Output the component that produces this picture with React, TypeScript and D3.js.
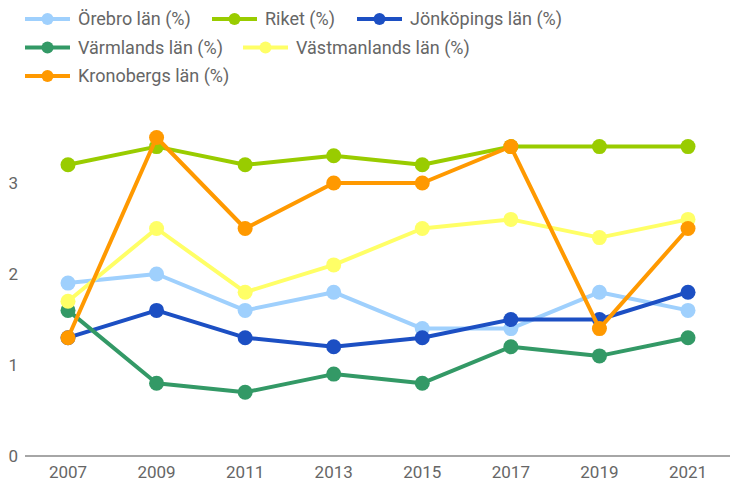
import { useRef, useEffect } from "react";
import * as d3 from "d3";

const years = ["2007", "2009", "2011", "2013", "2015", "2017", "2019", "2021"];
const yTicks = [0, 1, 2, 3];

const orebro = [1.9, 2.0, 1.6, 1.8, 1.4, 1.4, 1.8, 1.6];
const riket = [3.2, 3.4, 3.2, 3.3, 3.2, 3.4, 3.4, 3.4];
const jonkoping = [1.3, 1.6, 1.3, 1.2, 1.3, 1.5, 1.5, 1.8];
const varmland = [1.6, 0.8, 0.7, 0.9, 0.8, 1.2, 1.1, 1.3];
const vastmanland = [1.7, 2.5, 1.8, 2.1, 2.5, 2.6, 2.4, 2.6];
const kronoberg = [1.3, 3.5, 2.5, 3.0, 3.0, 3.4, 1.4, 2.5];

const seriesNames = [
  "Örebro län (%)",
  "Riket (%)",
  "Jönköpings län (%)",
  "Värmlands län (%)",
  "Västmanlands län (%)",
  "Kronobergs län (%)",
];
const seriesValues = [orebro, riket, jonkoping, varmland, vastmanland, kronoberg];
const colors = ["#9fd0fd", "#99cc00", "#1c4fc3", "#339966", "#ffff66", "#ff9900"];

// legend slots: [x of symbol start, row]
const legendPos: [number, number][] = [
  [25, 0],
  [212, 0],
  [357, 0],
  [25, 1],
  [243, 1],
  [25, 2],
];

export default function App() {
  const svgRef = useRef<SVGSVGElement | null>(null);

  useEffect(() => {
    const svg = d3.select(svgRef.current);
    svg.selectAll("*").remove();

    const width = 730;
    const height = 481;
    const font = "Roboto, 'Noto Sans', sans-serif";

    const x = d3.scalePoint<string>().domain(years).range([68, 688]);
    const y = d3.scaleLinear().domain([0, 3]).range([456, 183]);

    // baseline
    svg
      .append("line")
      .attr("x1", 25)
      .attr("x2", width)
      .attr("y1", y(0))
      .attr("y2", y(0))
      .attr("stroke", "#a6a6a6")
      .attr("stroke-width", 2);

    // y tick labels
    svg
      .append("g")
      .selectAll("text")
      .data(yTicks)
      .join("text")
      .attr("x", 18)
      .attr("y", (d) => y(d))
      .attr("dy", "0.35em")
      .attr("text-anchor", "end")
      .attr("font-family", font)
      .attr("font-size", 17)
      .attr("fill", "#666")
      .text((d) => d);

    // x tick labels
    svg
      .append("g")
      .selectAll("text")
      .data(years)
      .join("text")
      .attr("x", (d) => x(d)!)
      .attr("y", 478)
      .attr("text-anchor", "middle")
      .attr("font-family", font)
      .attr("font-size", 17)
      .attr("fill", "#666")
      .text((d) => d);

    const line = d3
      .line<number>()
      .x((_, i) => x(years[i])!)
      .y((d) => y(d));

    seriesValues.forEach((vals, s) => {
      const g = svg.append("g");
      g.append("path")
        .attr("d", line(vals))
        .attr("fill", "none")
        .attr("stroke", colors[s])
        .attr("stroke-width", 4)
        .attr("stroke-linejoin", "round");
      g.selectAll("circle")
        .data(vals)
        .join("circle")
        .attr("cx", (_, i) => x(years[i])!)
        .attr("cy", (d) => y(d))
        .attr("r", 7.5)
        .attr("fill", colors[s]);
    });

    // legend
    const legend = svg.append("g");
    seriesNames.forEach((name, s) => {
      const [lx, row] = legendPos[s];
      const ly = 19 + row * 28.5;
      const item = legend.append("g");
      item
        .append("line")
        .attr("x1", lx)
        .attr("x2", lx + 45)
        .attr("y1", ly)
        .attr("y2", ly)
        .attr("stroke", colors[s])
        .attr("stroke-width", 4);
      item
        .append("circle")
        .attr("cx", lx + 22.5)
        .attr("cy", ly)
        .attr("r", 6)
        .attr("fill", colors[s]);
      item
        .append("text")
        .attr("x", lx + 53)
        .attr("y", ly)
        .attr("dy", "0.35em")
        .attr("font-family", font)
        .attr("font-size", 18)
        .attr("fill", "#666")
        .text(name);
    });

    svg.attr("width", width).attr("height", height);
  }, []);

  return (
    <svg
      ref={svgRef}
      width={730}
      height={481}
      style={{ position: "absolute", top: 0, left: 0, background: "#fff" }}
    />
  );
}
